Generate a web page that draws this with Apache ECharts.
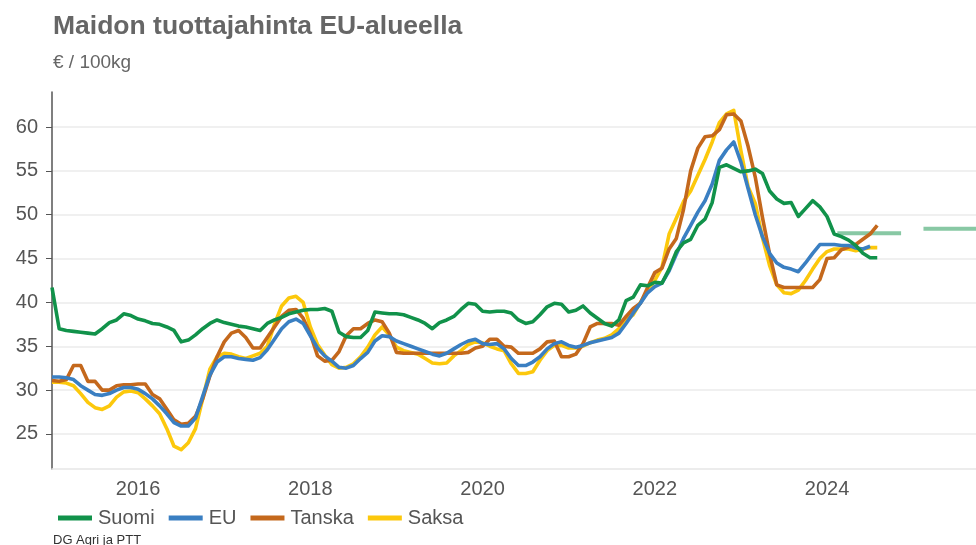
<!DOCTYPE html>
<html>
<head>
<meta charset="utf-8">
<script src="https://cdn.jsdelivr.net/npm/echarts@6.0.0/dist/echarts.min.js"></script>
<style>
  html, body { margin: 0; padding: 0; background: #fff; }
  #main { width: 976px; height: 545px; }
</style>
</head>
<body>
<div id="main"></div>
<script>
// monthly series, first value = January 2015
const startYear = 2015;

const suomi = [
  41.7, 37.0, 36.8, 36.7, 36.6, 36.5, 36.4, 37.0, 37.7, 38.0, 38.7, 38.5,
  38.1, 37.9, 37.6, 37.5, 37.2, 36.8, 35.5, 35.7, 36.3, 37.0, 37.6, 38.0,
  37.7, 37.5, 37.3, 37.2, 37.0, 36.8, 37.6, 38.0, 38.3, 38.7, 38.9, 39.1,
  39.2, 39.2, 39.3, 39.0, 36.6, 36.1, 36.0, 36.0, 36.8, 38.9, 38.8, 38.7,
  38.7, 38.6, 38.3, 38.0, 37.6, 37.0, 37.7, 38.0, 38.4, 39.2, 39.9, 39.8,
  39.0, 38.9, 39.0, 39.0, 38.8, 38.0, 37.6, 37.8, 38.6, 39.5, 39.9, 39.8,
  38.9, 39.1, 39.6, 38.8, 38.2, 37.6, 37.3, 38.0, 40.2, 40.6, 42.0, 41.9,
  42.3, 42.2, 43.8, 45.8, 46.8, 47.2, 48.8, 49.5, 51.4, 55.4, 55.7, 55.3,
  54.9, 55.0, 55.2, 54.7, 52.7, 51.8, 51.3, 51.4, 49.8, 50.7, 51.6, 50.9,
  49.8, 47.8, 47.5, 47.1, 46.5, 45.6, 45.1, 45.1
];

const eu = [
  31.5, 31.5, 31.4, 31.2, 30.5, 30.0, 29.5, 29.4, 29.6, 30.0, 30.3, 30.3,
  30.1, 29.6, 29.0, 28.2, 27.3, 26.3, 25.9, 25.9, 26.8, 29.3, 31.7, 33.2,
  33.8, 33.8, 33.6, 33.5, 33.4, 33.7, 34.6, 35.8, 37.0, 37.8, 38.1, 37.6,
  36.2, 34.8, 33.9, 33.3, 32.6, 32.5, 32.8, 33.6, 34.3, 35.6, 36.2, 36.1,
  35.6, 35.3, 35.0, 34.7, 34.4, 34.1, 33.9, 34.2, 34.7, 35.2, 35.6, 35.8,
  35.3, 35.2, 35.3, 34.7, 33.6, 32.8, 32.8, 33.2, 33.8, 34.7, 35.3, 35.5,
  35.1, 34.9, 35.1, 35.4, 35.6, 35.8, 36.0, 36.5, 37.6, 38.8, 39.9, 41.1,
  41.8, 42.2, 43.6, 45.5, 47.3, 48.8, 50.3, 51.6, 53.5, 56.2, 57.4, 58.3,
  56.0, 53.0, 50.0, 47.5, 45.6, 44.5, 44.0, 43.8, 43.5, 44.5, 45.6, 46.6,
  46.6, 46.6, 46.5, 46.5, 46.2, 46.1, 46.4
];

const tanska = [
  31.1, 31.0, 31.2, 32.8, 32.8, 31.0, 31.0, 30.0, 30.0, 30.5, 30.6, 30.6,
  30.7, 30.7, 29.5, 29.0, 27.8, 26.6, 26.1, 26.2, 27.0, 29.0, 31.6, 33.8,
  35.5, 36.5, 36.8, 36.0, 34.8, 34.8, 36.0, 37.2, 38.4, 39.1, 39.2, 38.2,
  36.4, 33.9, 33.3, 33.4, 34.4, 36.2, 37.0, 37.0, 37.6, 38.0, 37.8, 36.5,
  34.3, 34.2, 34.2, 34.2, 34.2, 34.2, 34.2, 34.2, 34.2, 34.2, 34.3, 34.8,
  35.0, 35.8, 35.8, 35.0, 34.9, 34.2, 34.2, 34.2, 34.7, 35.5, 35.6, 33.8,
  33.8, 34.1, 35.3, 37.2, 37.6, 37.6, 37.6, 37.4, 38.4, 39.3, 39.9, 41.7,
  43.4, 43.9, 46.1, 47.3, 50.6, 55.0, 57.6, 58.9, 59.0, 59.7, 61.4, 61.5,
  60.7, 57.8, 54.3, 49.7, 45.5, 42.0, 41.7, 41.7, 41.7, 41.7, 41.7, 42.6,
  45.0, 45.1, 46.0, 46.3, 46.6, 47.2, 47.8, 48.8
];

const saksa = [
  30.9, 30.9, 30.8, 30.5, 29.6, 28.6, 28.0, 27.8, 28.2, 29.2, 29.8, 29.9,
  29.7, 29.0, 28.2, 27.3, 25.6, 23.6, 23.2, 24.0, 25.6, 29.0, 32.4, 33.8,
  34.2, 34.1, 33.8, 33.6, 33.9, 34.2, 35.0, 37.5, 39.6, 40.5, 40.7, 40.0,
  37.2, 35.2, 34.0, 32.9, 32.5, 32.6, 33.0, 33.8, 34.9, 36.3, 37.2, 36.3,
  34.9, 34.5, 34.3, 34.1, 33.6, 33.1, 33.0, 33.1, 33.9, 34.5, 35.2, 35.5,
  35.4, 35.0, 34.7, 34.5, 33.0, 31.9, 31.9, 32.1, 33.4, 34.5, 35.1, 35.1,
  34.8, 34.8, 35.0, 35.4, 35.7, 35.9, 36.3, 37.0, 38.0, 38.6, 40.0, 41.3,
  42.5, 44.0, 47.8, 49.6, 51.5, 52.7, 54.5, 56.3, 58.3, 60.5, 61.5, 61.9,
  57.3, 53.2, 51.3, 47.4, 44.2, 42.0, 41.1, 41.0, 41.4, 42.5, 43.8, 45.0,
  45.8, 46.1, 46.1, 46.1, 45.9, 46.1, 46.25, 46.25
];

// Suomi forecast, yearly levels
const ennusteVuodet = [2024, 2025];
const ennuste = [47.9, 48.4];

const yTicks = [25, 30, 35, 40, 45, 50, 55, 60];
const xTicks = [2016, 2018, 2020, 2022, 2024];

const FONT = 'Liberation Sans, Arial, Helvetica, sans-serif';

function toPoints(values) {
  return values.map((v, i) => [startYear + i / 12, v]);
}

// each forecast year drawn as a segment Feb..Nov, broken between years
const ennustePoints = [];
ennusteVuodet.forEach((y, i) => {
  ennustePoints.push([y + 0.12, ennuste[i]]);
  ennustePoints.push([y + 0.86, ennuste[i]]);
  ennustePoints.push([y + 0.99, '-']);
});

const chart = echarts.init(document.getElementById('main'));

function lineSeries(name, values, color, z) {
  return {
    name: name,
    type: 'line',
    data: toPoints(values),
    showSymbol: false,
    symbol: 'none',
    z: z,
    lineStyle: { color: color, width: 3.6, join: 'round' },
    itemStyle: { color: color },
    emphasis: { disabled: true }
  };
}

const option = {
  animation: false,
  textStyle: { fontFamily: FONT },
  title: [
    {
      text: 'Maidon tuottajahinta EU-alueella',
      left: 53, top: 13, padding: 0,
      textStyle: { fontSize: 26.5, fontWeight: 'bold', color: '#666', fontFamily: FONT }
    },
    {
      text: '€ / 100kg',
      left: 53, top: 53, padding: 0,
      textStyle: { fontSize: 19, fontWeight: 'normal', color: '#666', fontFamily: FONT }
    },
    {
      text: 'DG Agri ja PTT',
      left: 53, top: 534, padding: 0,
      textStyle: { fontSize: 13, fontWeight: 'normal', color: '#333', fontFamily: FONT }
    }
  ],
  legend: {
    data: ['Suomi', 'EU', 'Tanska', 'Saksa'],
    left: 53,
    top: 503,
    icon: 'rect',
    itemWidth: 34,
    itemHeight: 5,
    itemGap: 14,
    textStyle: { fontSize: 20, color: '#555', fontFamily: FONT, padding: [0, 0, 0, 1] }
  },
  grid: { left: 52, right: 0, top: 92, bottom: 76, containLabel: false },
  xAxis: {
    type: 'value',
    min: 2015,
    max: 2025.73,
    axisLine: { show: true, lineStyle: { color: '#e6e6e6', width: 1.5 } },
    axisTick: { show: false, customValues: xTicks },
    splitLine: { show: false },
    axisLabel: {
      customValues: xTicks,
      color: '#555', fontSize: 20, margin: 10, fontFamily: FONT,
      formatter: v => String(v)
    }
  },
  yAxis: {
    type: 'value',
    min: 21,
    max: 64,
    axisLine: { show: true, lineStyle: { color: '#555', width: 1.5 } },
    axisTick: { show: true, length: 6, customValues: yTicks, lineStyle: { color: '#555' } },
    splitLine: { show: true, lineStyle: { color: '#ebebeb', width: 1.5 } },
    axisLabel: {
      customValues: yTicks,
      color: '#555', fontSize: 20, margin: 14, fontFamily: FONT
    }
  },
  series: [
    lineSeries('Suomi', suomi, '#11924a', 6),
    lineSeries('EU', eu, '#3a7fc2', 5),
    lineSeries('Tanska', tanska, '#c4681c', 4),
    lineSeries('Saksa', saksa, '#fcc80c', 3),
    {
      name: 'Suomi ennuste',
      type: 'line',
      data: ennustePoints,
      showSymbol: false,
      symbol: 'none',
      connectNulls: false,
      z: 2,
      lineStyle: { color: 'rgba(17,146,74,0.5)', width: 4 },
      emphasis: { disabled: true }
    }
  ]
};

chart.setOption(option);
</script>
</body>
</html>
